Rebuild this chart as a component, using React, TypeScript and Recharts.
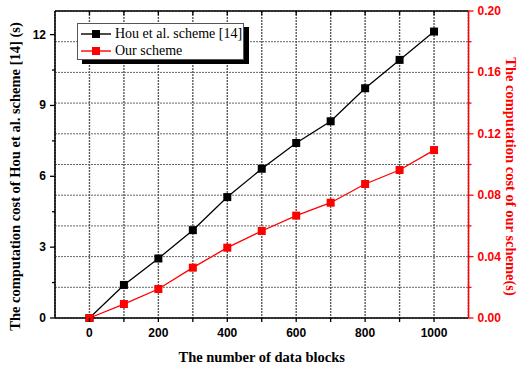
import React from "react";
import { LineChart, Line, XAxis, YAxis, CartesianGrid } from "recharts";

// number of data blocks
const blocks = [0, 100, 200, 300, 400, 500, 600, 700, 800, 900, 1000];
// Hou et al. scheme [14], seconds (left axis)
const houCost = [0, 1.4, 2.52, 3.72, 5.12, 6.32, 7.41, 8.33, 9.73, 10.93, 12.13];
// our scheme, seconds (right axis)
const ourCost = [0, 0.0091, 0.0189, 0.0328, 0.0458, 0.0567, 0.0667, 0.0751, 0.0873, 0.0964, 0.1094];

const xTicks = [0, 100, 200, 300, 400, 500, 600, 700, 800, 900, 1000];
const leftTicks = [0, 1.5, 3, 4.5, 6, 7.5, 9, 10.5, 12];
const rightTicks = [0, 0.02, 0.04, 0.06, 0.08, 0.1, 0.12, 0.14, 0.16, 0.18, 0.2];

const seriesNames = ["Hou et al. scheme [14]", "Our scheme"];

const data = blocks.map((b, i) => ({ blocks: b, hou: houCost[i], our: ourCost[i] }));

const RED = "#ff0000";
const tickFont = { fontFamily: "'Liberation Sans', Arial, sans-serif", fontWeight: 700, fontSize: 12 };
const titleFont = { fontFamily: "'Liberation Serif', 'Times New Roman', serif", fontWeight: 700, fontSize: 14.5 };

/* ── ticks ─────────────────────────────────────────────── */
function BottomTick({ x, y, payload }: any) {
  const v = payload.value;
  return (
    <g>
      <line x1={x} x2={x} y1={y} y2={y + 4} stroke="#000" strokeWidth={1.3} />
      {v % 200 === 0 ? (
        <text x={x} y={y + 19} textAnchor="middle" fill="#000" {...tickFont}>
          {v}
        </text>
      ) : null}
    </g>
  );
}

function TopTick({ x, y }: any) {
  return <line x1={x} x2={x} y1={y} y2={y + 4} stroke="#000" strokeWidth={1.3} />;
}

function LeftTick({ x, y, payload }: any) {
  const v = payload.value;
  const major = v % 3 === 0;
  return (
    <g>
      <line x1={x} x2={x - (major ? 5 : 3)} y1={y} y2={y} stroke="#000" strokeWidth={1.3} />
      {major ? (
        <text x={x - 9} y={y + 4} textAnchor="end" fill="#000" {...tickFont}>
          {v}
        </text>
      ) : null}
    </g>
  );
}

function RightTick({ x, y, payload }: any) {
  const v = payload.value;
  const major = Math.round(v * 100) % 4 === 0;
  return (
    <g>
      <line x1={x} x2={x + (major ? 5 : 3)} y1={y} y2={y} stroke={RED} strokeWidth={1.3} />
      {major ? (
        <text x={x + 9} y={y + 4} textAnchor="start" fill={RED} {...tickFont}>
          {v.toFixed(2)}
        </text>
      ) : null}
    </g>
  );
}

/* ── axis titles ───────────────────────────────────────── */
function LeftTitle({ viewBox }: any) {
  const cx = viewBox.x + 15;
  const cy = viewBox.y + viewBox.height / 2 + 12;
  return (
    <text x={cx} y={cy} transform={`rotate(-90 ${cx} ${cy})`} textAnchor="middle" dominantBaseline="central" fill="#000" {...titleFont}>
      The computation cost of Hou et al. scheme [14] (s)
    </text>
  );
}

function RightTitle({ viewBox }: any) {
  const cx = viewBox.x + viewBox.width - 13;
  const cy = viewBox.y + viewBox.height / 2 + 12;
  return (
    <text x={cx} y={cy} transform={`rotate(90 ${cx} ${cy})`} textAnchor="middle" dominantBaseline="central" fill={RED} {...titleFont}>
      The computation cost of our scheme(s)
    </text>
  );
}

function BottomTitle({ viewBox }: any) {
  return (
    <text x={viewBox.x + viewBox.width / 2} y={viewBox.y + 44} textAnchor="middle" fill="#000" {...titleFont}>
      The number of data blocks
    </text>
  );
}

/* ── square markers ────────────────────────────────────── */
const square = (color: string) => (p: any) => (
  <rect key={p.index} x={p.cx - 4} y={p.cy - 4} width={8} height={8} fill={color} />
);

/* ── legend ────────────────────────────────────────────── */
function LegendKey({ color }: { color: string }) {
  return (
    <svg width={34} height={10} style={{ marginRight: 2, flex: "none" }}>
      <line x1={2} x2={32} y1={5} y2={5} stroke={color} strokeWidth={1.4} />
      <rect x={13} y={1} width={8} height={8} fill={color} />
    </svg>
  );
}

export default function App() {
  return (
    <div style={{ position: "absolute", left: 0, top: 0, width: 524, height: 370, background: "#fff" }}>
      <LineChart width={524} height={370} data={data} margin={{ top: 0, right: 0, bottom: 0, left: 0 }}>
        {/* dotted grid: horizontal follows the right axis ticks, vertical the x ticks */}
        <CartesianGrid
          xAxisId="bottom"
          yAxisId="right"
          vertical={false}
          stroke="#666666"
          strokeWidth={1}
          strokeDasharray="2 1"
        />
        <CartesianGrid
          xAxisId="bottom"
          yAxisId="right"
          horizontal={false}
          stroke="#5a5a5a"
          strokeWidth={1.4}
          strokeDasharray="2 1"
        />
        <XAxis
          xAxisId="bottom"
          dataKey="blocks"
          type="number"
          domain={[-100, 1100]}
          ticks={xTicks}
          interval={0}
          height={52}
          tickSize={0}
          tickMargin={0}
          tickLine={false}
          tick={<BottomTick />}
          axisLine={{ stroke: "#000", strokeWidth: 1.5 }}
          label={<BottomTitle />}
        />
        <XAxis
          xAxisId="top"
          orientation="top"
          dataKey="blocks"
          type="number"
          domain={[-100, 1100]}
          ticks={xTicks}
          interval={0}
          height={11}
          tickSize={0}
          tickMargin={0}
          tickLine={false}
          tick={<TopTick />}
          axisLine={{ stroke: "#000", strokeWidth: 1.5 }}
        />
        <YAxis
          yAxisId="left"
          type="number"
          domain={[0, 13]}
          ticks={leftTicks}
          interval={0}
          width={55}
          tickSize={0}
          tickMargin={0}
          tickLine={false}
          tick={<LeftTick />}
          axisLine={{ stroke: "#000", strokeWidth: 1.5 }}
          label={<LeftTitle />}
        />
        <YAxis
          yAxisId="right"
          orientation="right"
          type="number"
          domain={[0, 0.2]}
          ticks={rightTicks}
          interval={0}
          width={55.5}
          tickSize={0}
          tickMargin={0}
          tickLine={false}
          tick={<RightTick />}
          axisLine={{ stroke: RED, strokeWidth: 1.5 }}
          label={<RightTitle />}
        />
        <Line
          xAxisId="bottom"
          yAxisId="left"
          dataKey="hou"
          name={seriesNames[0]}
          stroke="#000"
          strokeWidth={1.3}
          dot={square("#000")}
          isAnimationActive={false}
        />
        <Line
          xAxisId="bottom"
          yAxisId="right"
          dataKey="our"
          name={seriesNames[1]}
          stroke={RED}
          strokeWidth={1.3}
          dot={square(RED)}
          isAnimationActive={false}
        />
      </LineChart>

      {/* Legend */}
      <div
        style={{
          position: "absolute",
          left: 77,
          top: 23,
          width: 167,
          height: 37,
          border: "1px solid #555",
          background: "#fff",
          boxShadow: "5px 4px 0 #000",
          fontFamily: "'Liberation Serif', 'Times New Roman', serif",
          fontSize: 14,
          lineHeight: "17px",
          whiteSpace: "nowrap",
          padding: "1px 0 0 1px",
          boxSizing: "border-box",
        }}
      >
        <div style={{ display: "flex", alignItems: "center", height: 17 }}>
          <LegendKey color="#000" />
          {seriesNames[0]}
        </div>
        <div style={{ display: "flex", alignItems: "center", height: 17 }}>
          <LegendKey color={RED} />
          {seriesNames[1]}
        </div>
      </div>
    </div>
  );
}
